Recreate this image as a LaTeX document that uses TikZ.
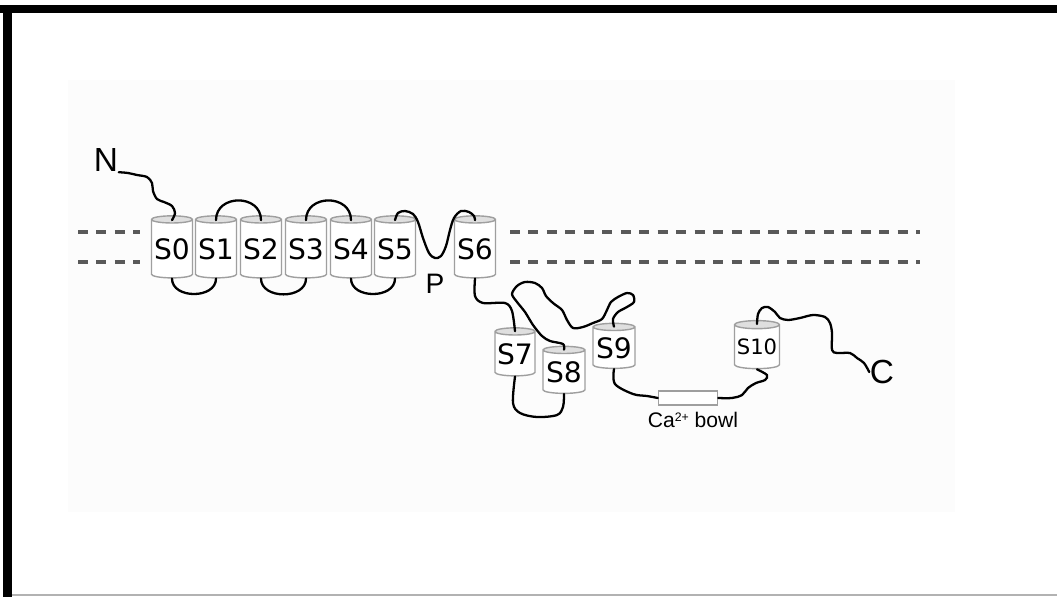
\documentclass[tikz,border=0pt]{standalone}
\usepackage{fontspec}
\usetikzlibrary{shapes.geometric}
\newfontfamily\segfont{DejaVu Sans}
\newfontfamily\lblfont{Liberation Sans}

\begin{document}
\begin{tikzpicture}[x=0.01cm, y=-0.01cm,
    seg/.style={cylinder, shape border rotate=90, draw=gray!75, line width=0.4pt,
      aspect=0.2, cylinder uses custom fill, cylinder body fill=white,
      cylinder end fill=gray!25, inner sep=0pt, minimum width=4.1mm,
      minimum height=6.2mm, font=\segfont\fontsize{8}{9}\selectfont},
    chain/.style={line width=0.65pt, line join=round, line cap=round},
    membrane/.style={gray!70!black, line width=0.9pt, dash pattern=on 2.85pt off 2.4pt}]
  \useasboundingbox (0,0) rectangle (1057,597);

  % frame of the figure
  \fill[black!1] (68,80) rectangle (955,512);
  \fill[black] (0,5) rectangle (1057,13);
  \fill[black] (3,5) rectangle (12,597);
  \draw[gray!60, line width=0.4pt] (12,595) -- (1057,595);

  % membrane borders
  \draw[membrane] (78,232) -- (140,232);
  \draw[membrane] (78,262) -- (140,262);
  \draw[membrane] (510,232) -- (920,232);
  \draw[membrane] (510,262) -- (920,262);

  % transmembrane segments
  \node[seg] (s0) at (172,249) {S0};
  \node[seg] (s1) at (216,249) {S1};
  \node[seg] (s2) at (261,249) {S2};
  \node[seg] (s3) at (306,249) {S3};
  \node[seg] (s4) at (351,249) {S4};
  \node[seg] (s5) at (395,249) {S5};
  \node[seg] (s6) at (475,249) {S6};

  % cytoplasmic segments
  \node[seg, minimum width=4.0mm, minimum height=4.8mm] (s7) at (515,354) {S7};
  \node[seg, minimum width=4.2mm, minimum height=4.7mm] (s8) at (564,372) {S8};
  \node[seg, minimum width=4.2mm, minimum height=4.5mm] (s9) at (614,348) {S9};
  \node[seg, minimum width=4.5mm, minimum height=4.8mm,
    font=\segfont\fontsize{6}{7}\selectfont] (s10) at (757,347) {S10};
  \node[draw=gray!75, fill=white, line width=0.4pt, minimum width=5.9mm,
    minimum height=1.4mm, inner sep=0pt] (bowl) at (688,398) {};
  \node[font=\lblfont\fontsize{6}{7}\selectfont] (bowltxt) at (693,420)
    {Ca{\fontsize{3.5}{4}\selectfont\raisebox{0.9ex}{2+}} bowl};

  \node[font=\lblfont\fontsize{9.5}{10}\selectfont, inner sep=0pt] (n) at (106,160) {N};
  \node[font=\lblfont\fontsize{8}{9}\selectfont, inner sep=0pt] (p) at (435,284) {P};
  \node[font=\lblfont\fontsize{9.5}{10}\selectfont, inner sep=0pt] (c) at (882,372) {C};

  % loops between the segments
  \draw[chain] plot[smooth, tension=0.55] coordinates {(n.south east) (128,173)
    (137,175) (147,177) (152,183) (153,191) (157,199) (164,202) (172,206)
    (175,213) ([yshift=-0.5mm]s0.north)};
  \draw[chain] ([yshift=-0.5mm]s1.north) to[out=90, in=90, looseness=1.5] ([yshift=-0.5mm]s2.north);
  \draw[chain] ([yshift=-0.5mm]s3.north) to[out=90, in=90, looseness=1.5] ([yshift=-0.5mm]s4.north);
  \draw[chain] (s0.south) to[out=-90, in=-90, looseness=1.2] (s1.south);
  \draw[chain] (s2.south) to[out=-90, in=-90, looseness=1.2] (s3.south);
  \draw[chain] (s4.south) to[out=-90, in=-90, looseness=1.2] (s5.south);
  \draw[chain] plot[smooth, tension=0.55] coordinates {([yshift=-0.5mm]s5.north)
    (398,213) (405,211) (413,214) (418,222) (423,238) (429,253) (435,258)
    (441,256) (446,246) (450,230) (454,218) (461,211) (469,212) (474,216)
    ([yshift=-0.5mm]s6.north)};
  \draw[chain] plot[smooth, tension=0.5] coordinates {(s6.south) (475,296)
    (483,303) (505,303) (512,311) ([yshift=-0.4mm]s7.north)};
  \draw[chain] plot[smooth, tension=0.55] coordinates {(s7.south) (513,403)
    (520,413) (537,417) (557,415) (563,407) (s8.south)};
  \draw[chain] plot[smooth, tension=0.5] coordinates {([yshift=-0.4mm]s8.north) (563,344)
    (550,341) (542,336) (533,325) (525,312) (517,302) (512,294) (517,286)
    (525,282) (535,283) (542,288) (546,296) (553,303) (562,310) (567,320)
    (573,328) (583,327) (593,323) (602,319) (607,310) (611,302) (618,297)
    (627,293) (633,295) (634,302) (627,307) (618,312) (613,319) ([yshift=-0.4mm]s9.north)};
  \draw[chain] plot[smooth, tension=0.55] coordinates {(s9.south) (615,384)
    (633,394) (647,396) (bowl.west)};
  \draw[chain] plot[smooth, tension=0.55] coordinates {(bowl.east) (732,398)
    (742,395) (748,388) (756,383) (765,380) (767,375) (s10.south)};
  \draw[chain] plot[smooth, tension=0.5] coordinates {([yshift=-0.4mm]s10.north)
    (758,314) (762,308) (768,307) (775,312) (780,318) (788,320) (800,318)
    (813,315) (825,317) (830,323) (832,333) (832,350) (837,353) (850,353)
    (857,358) (864,363) (c.west)};
\end{tikzpicture}
\end{document}
